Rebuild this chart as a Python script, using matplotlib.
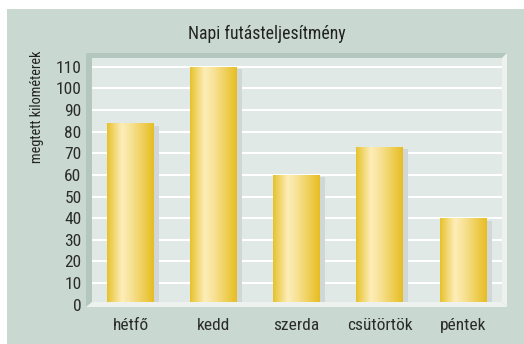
import matplotlib
matplotlib.use('Agg')
import matplotlib.pyplot as plt
import numpy as np
from matplotlib.colors import LinearSegmentedColormap
from matplotlib.patches import Rectangle, Polygon

plt.rcParams['font.family'] = ['Roboto Condensed', 'DejaVu Sans']

# napi adatok
days = ['hétfő', 'kedd', 'szerda', 'csütörtök', 'péntek']
km = [84, 110, 60, 73, 40]
yticks = list(range(0, 111, 10))

W, H = 524, 344
fig = plt.figure(figsize=(W / 100, H / 100), dpi=100)
fig.patch.set_facecolor('white')


def px(x, y):
    # pixel coords (top-left origin) -> figure fraction
    return (x / W, 1 - y / H)


# háttér
fig.add_artist(Rectangle(px(7, 344), 517 / W, 335 / H, transform=fig.transFigure,
                         facecolor='#c9d9d1', edgecolor='none', zorder=-5))

# keret (bevel)
dark, light = '#b3c7be', '#edf2ef'
bevel = [
    ([(86, 53), (507, 53), (502, 58), (92, 58)], dark),
    ([(86, 53), (92, 58), (92, 302), (86, 307)], dark),
    ([(507, 53), (507, 307), (502, 302), (502, 58)], light),
    ([(86, 307), (507, 307), (502, 302), (92, 302)], light),
]
for pts, c in bevel:
    fig.add_artist(Polygon([px(*p) for p in pts], closed=True, transform=fig.transFigure,
                           facecolor=c, edgecolor='none', zorder=3))

left, right, top, bottom = 92, 502, 58, 304.6
ax = fig.add_axes([left / W, 1 - bottom / H, (right - left) / W, (bottom - top) / H])
ax.set_facecolor('#e0e9e5')
for s in ax.spines.values():
    s.set_visible(False)

unit = (bottom - 66.8) / 110
ax.set_ylim(0, (bottom - top) / unit)
step = 83.125
ax.set_xlim((left - 130.5) / step, (right - 130.5) / step)

ax.set_yticks(yticks)
ax.set_yticklabels([str(t) for t in yticks])
ax.yaxis.grid(True, color='white', linewidth=1.5)
ax.set_axisbelow(True)
ax.tick_params(axis='y', length=0, pad=7.5, labelsize=12.5, labelcolor='#2b2b2b')
ax.tick_params(axis='x', length=0, pad=10, labelsize=12.5, labelcolor='#2b2b2b')

x = np.arange(len(days))
bw = 47 / step
sw = 5 / step

# árnyék az oszlopok jobb oldalán
ax.bar(x + bw / 2 + sw / 2, [v - 1.2 for v in km], width=sw, color='#d1d6d7',
       edgecolor='none', zorder=2)

bars = ax.bar(x, km, width=bw, color='#eccb48', edgecolor='none', zorder=3)

gold = LinearSegmentedColormap.from_list('gold', [
    (0.0, '#e6c22a'), (0.08, '#edcd50'), (0.32, '#fdeeba'),
    (0.55, '#f6df8e'), (0.85, '#ecc944'), (1.0, '#e6bd22')])
grad = np.linspace(0, 1, 256).reshape(1, -1)
for b in bars:
    x0 = b.get_x()
    im = ax.imshow(grad, cmap=gold, aspect='auto', zorder=4,
                   extent=(x0, x0 + b.get_width(), 0, b.get_height()))
    im.set_clip_path(b)

ax.set_xticks(x)
ax.set_xticklabels(days)

fig.text(267 / W, 1 - 34 / H, 'Napi futásteljesítmény', ha='center', va='center',
         fontsize=12.8, color='#222222')
fig.text(37 / W, 1 - 107 / H, 'megtett kilométerek', ha='center', va='center',
         rotation=90, fontsize=10.3, color='#222222')

fig.savefig('out.png', dpi=100)
